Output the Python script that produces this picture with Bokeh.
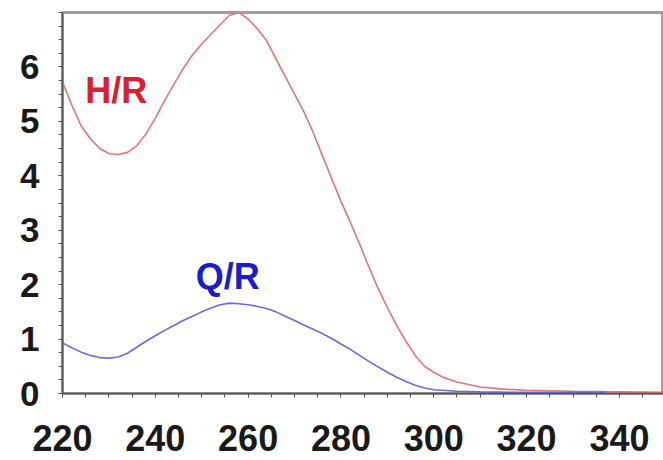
from bokeh.plotting import figure
from bokeh.embed import file_html
from bokeh.resources import INLINE
from bokeh.models import Range1d, FixedTicker
from bokeh.core.properties import value

# ---- data ----
hr_nm = [220, 222, 224, 226, 228, 230, 232, 234, 236, 238, 240, 242, 244, 246, 248,
         250, 252, 254, 256, 258, 260, 262, 264, 266, 268, 270, 272, 274, 276, 278,
         280, 282, 284, 286, 288, 290, 292, 294, 296, 298, 300, 302, 305, 310, 315,
         320, 330, 340, 350]
hr_val = [5.72, 5.30, 4.92, 4.68, 4.50, 4.41, 4.39, 4.43, 4.55, 4.77, 5.06, 5.38, 5.68,
          5.97, 6.22, 6.42, 6.60, 6.78, 6.95, 7.00, 6.88, 6.70, 6.48, 6.15, 5.82, 5.50,
          5.18, 4.80, 4.37, 3.95, 3.53, 3.15, 2.75, 2.33, 1.93, 1.58, 1.25, 0.96, 0.70,
          0.50, 0.39, 0.30, 0.21, 0.12, 0.08, 0.06, 0.04, 0.03, 0.02]

qr_nm = [220, 222, 224, 226, 228, 230, 232, 234, 236, 238, 240, 242, 244, 246, 248,
         250, 252, 254, 256, 258, 260, 262, 264, 266, 268, 270, 272, 274, 276, 278,
         280, 282, 284, 286, 288, 290, 292, 294, 296, 298, 300, 305, 310, 320, 330, 337]
qr_val = [0.93, 0.84, 0.76, 0.70, 0.66, 0.65, 0.67, 0.74, 0.85, 0.96, 1.06, 1.16, 1.25,
          1.34, 1.42, 1.50, 1.57, 1.63, 1.66, 1.65, 1.63, 1.60, 1.56, 1.50, 1.42, 1.34,
          1.26, 1.18, 1.10, 1.01, 0.91, 0.81, 0.70, 0.59, 0.49, 0.39, 0.30, 0.22, 0.15,
          0.10, 0.07, 0.04, 0.03, 0.02, 0.02, 0.02]

x_ticks = [220, 240, 260, 280, 300, 320, 340]
y_ticks = [0, 1, 2, 3, 4, 5, 6]

labels = ["H/R", "Q/R"]
label_x = [231.6, 255.6]
label_y = [5.56, 2.15]

p = figure(width=663, height=460, output_backend="svg", toolbar_location=None,
           x_range=Range1d(220, 349.5), y_range=Range1d(0, 7),
           min_border_left=62, min_border_right=0, min_border_top=12, min_border_bottom=67)
p.background_fill_color = "white"
p.border_fill_color = "white"
p.grid.visible = False
p.outline_line_color = "#a0a0a0"
p.outline_line_width = 3

font = "Liberation Sans"

for ax in (p.xaxis[0], p.yaxis[0]):
    ax.axis_line_color = "#555555"
    ax.axis_line_width = 1.5
    ax.major_tick_line_color = "#555555"
    ax.minor_tick_line_color = "#555555"
    ax.major_tick_in = 0
    ax.major_tick_out = 4
    ax.minor_tick_in = 0
    ax.minor_tick_out = 4
    ax.major_label_text_font = font
    ax.major_label_text_font_style = "bold"
    ax.major_label_text_color = "#1a1a1a"

p.xaxis.ticker = FixedTicker(ticks=x_ticks, minor_ticks=list(range(220, 350, 5)))
p.yaxis.ticker = FixedTicker(ticks=y_ticks, minor_ticks=[i * 0.25 for i in range(0, 29)])
p.xaxis.major_label_text_font_size = "36px"
p.yaxis.major_label_text_font_size = "35px"
p.xaxis.major_label_standoff = 27
p.yaxis.major_label_standoff = 19

p.line(hr_nm, hr_val, line_color="#e47474", line_width=1.6)
p.line(qr_nm, qr_val, line_color="#6a6ae0", line_width=1.6)

p.text(x=[label_x[0]], y=[label_y[0]], text=[labels[0]], text_color="#d8202e",
       text_font=value(font), text_font_style="bold", text_font_size="36px",
       text_align="center", text_baseline="middle")
p.text(x=[label_x[1]], y=[label_y[1]], text=[labels[1]], text_color="#1c1cc8",
       text_font=value(font), text_font_style="bold", text_font_size="36px",
       text_align="center", text_baseline="middle")

open("out.html", "w").write(file_html(p, INLINE))
